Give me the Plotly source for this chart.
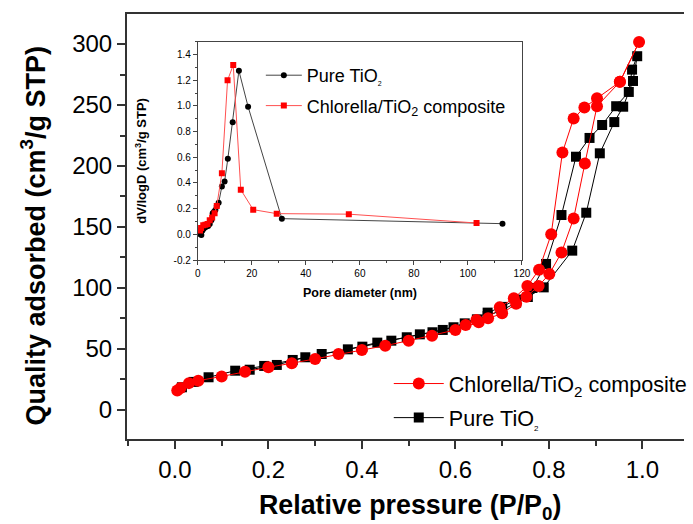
import plotly.graph_objects as go

# ---------------- Main isotherm data ----------------
chl_ads_p = [0.005, 0.012, 0.03, 0.05, 0.10, 0.15, 0.20, 0.25, 0.30, 0.35, 0.40, 0.45, 0.50, 0.55,
             0.60, 0.65, 0.70, 0.73, 0.752, 0.778, 0.801, 0.827, 0.853, 0.877, 0.903, 0.952, 0.993]
chl_ads_v = [16.0, 18.0, 22.0, 24.0, 27.5, 31.4, 35.0, 38.3, 41.8, 45.9, 49.2, 52.7, 56.8, 60.9,
             65.6, 72.0, 79.2, 87.0, 92.9, 101.6, 111.5, 129.0, 157.0, 202.0, 249.0, 269.0, 301.6]
chl_des_p = [0.993, 0.952, 0.903, 0.876, 0.853, 0.829, 0.805, 0.779, 0.754, 0.725, 0.695, 0.67, 0.645, 0.622]
chl_des_v = [301.6, 269.0, 255.5, 248.0, 239.0, 211.0, 144.0, 115.0, 101.6, 91.5, 84.2, 75.1, 73.8, 69.7]

pure_ads_p = [0.015, 0.04, 0.072, 0.129, 0.191, 0.252, 0.314, 0.37, 0.433, 0.496, 0.551, 0.596,
              0.646, 0.669, 0.70, 0.73, 0.755, 0.789, 0.85, 0.88, 0.909, 0.94, 0.959, 0.98, 0.989]
pure_ads_v = [18.6, 23.0, 26.8, 32.2, 36.1, 41.0, 45.9, 49.7, 55.2, 59.6, 63.7, 67.8,
              74.3, 77.0, 82.0, 88.0, 92.6, 100.5, 130.6, 161.7, 210.4, 236.0, 248.6, 269.7, 290.0]
pure_des_p = [0.989, 0.978, 0.971, 0.944, 0.914, 0.887, 0.858, 0.827, 0.794, 0.765, 0.73, 0.70,
              0.669, 0.62, 0.573, 0.524, 0.463, 0.401, 0.279, 0.218, 0.16]
pure_des_v = [290.0, 279.0, 260.7, 249.0, 233.6, 223.0, 207.6, 159.8, 119.7, 100.0, 90.5, 84.5,
              79.8, 71.0, 65.6, 62.0, 56.8, 51.9, 43.2, 36.9, 33.0]

# ---------------- Inset pore size distribution ----------------
pure_d = [0.5, 0.9, 1.3, 1.7, 2.2, 2.7, 3.2, 3.8, 4.4, 5.0, 5.5, 6.0, 6.5, 7.0, 7.7, 8.9, 9.9,
          11.1, 12.9, 15.2, 18.6, 31.1, 112.8]
pure_dv = [0.02, 0.0, -0.005, 0.03, 0.045, 0.055, 0.06, 0.065, 0.08, 0.11, 0.165, 0.175, 0.19,
           0.22, 0.245, 0.373, 0.412, 0.588, 0.872, 1.274, 0.994, 0.122, 0.083]
chl_d = [0.8, 1.2, 2.0, 2.8, 3.6, 4.4, 5.3, 6.2, 7.0, 8.9, 11.0, 13.1, 15.9, 20.5, 29.2, 55.9, 103.2]
chl_dv = [0.03, 0.05, 0.07, 0.075, 0.08, 0.11, 0.13, 0.165, 0.22, 0.476, 1.20, 1.318, 0.347,
          0.192, 0.161, 0.157, 0.088]

FONT = "Liberation Sans, Arial, sans-serif"
AX = "#333333"

fig = go.Figure()

# main traces (black first so red sits on top)
fig.add_trace(go.Scatter(
    x=pure_ads_p + pure_des_p[1:], y=pure_ads_v + pure_des_v[1:],
    mode="lines+markers", name="Pure TiO<sub><span style='font-size:8px'>2</span></sub>",
    line=dict(color="black", width=1), marker=dict(symbol="square", size=10, color="black"),
    legend="legend", legendrank=2, legendgroup="a"))
fig.add_trace(go.Scatter(
    x=chl_ads_p + chl_des_p[1:], y=chl_ads_v + chl_des_v[1:],
    mode="lines+markers", name="Chlorella/TiO<sub>2</sub> composite",
    line=dict(color="#ff0000", width=1), marker=dict(symbol="circle", size=12, color="#ff0000"),
    legend="legend", legendrank=1, legendgroup="b"))

# inset traces
fig.add_trace(go.Scatter(
    x=pure_d, y=pure_dv, xaxis="x2", yaxis="y2",
    mode="lines+markers", name="Pure TiO<sub><span style='font-size:7px'>2</span></sub>",
    line=dict(color="#444444", width=1), marker=dict(symbol="circle", size=6, color="black"),
    legend="legend2", legendrank=1, legendgroup="c"))
fig.add_trace(go.Scatter(
    x=chl_d, y=chl_dv, xaxis="x2", yaxis="y2",
    mode="lines+markers", name="Chlorella/TiO<sub>2</sub> composite",
    line=dict(color="#ff5050", width=1), marker=dict(symbol="square", size=6, color="#ff0000"),
    legend="legend2", legendrank=2, legendgroup="d"))

W, H = 693, 524
L, T, B = 127, 14, 85
PW, PH = W - L, H - T - B


def px_x(p):
    return (p - L) / PW


def px_y(p):
    return (H - B - p) / PH


fig.update_layout(
    width=W, height=H,
    margin=dict(l=L, r=0, t=T, b=B, pad=0),
    paper_bgcolor="white", plot_bgcolor="white",
    font=dict(family=FONT, color="black"),
    xaxis=dict(range=[-0.1025, 1.0891], tickvals=[0, 0.2, 0.4, 0.6, 0.8, 1.0],
               ticktext=["0.0", "0.2", "0.4", "0.6", "0.8", "1.0"],
               ticks="outside", ticklen=8, tickwidth=2, tickcolor=AX,
               minor=dict(dtick=0.1, tick0=0, ticks="outside", ticklen=5, tickwidth=2, tickcolor=AX),
               showline=True, linewidth=2, linecolor=AX, mirror=True,
               showgrid=False, zeroline=False, tickfont=dict(size=24, family=FONT)),
    yaxis=dict(range=[-23.8, 324.6], tickvals=[0, 50, 100, 150, 200, 250, 300],
               ticks="outside", ticklen=8, tickwidth=2, tickcolor=AX,
               minor=dict(dtick=25, tick0=0, ticks="outside", ticklen=5, tickwidth=2, tickcolor=AX),
               showline=True, linewidth=2, linecolor=AX, mirror=False,
               showgrid=False, zeroline=False, tickfont=dict(size=24, family=FONT)),
    xaxis2=dict(domain=[px_x(199), px_x(528.3)], anchor="y2", range=[0, 120],
                tickvals=[0, 20, 40, 60, 80, 100, 120],
                ticks="outside", ticklen=4, tickwidth=1, tickcolor="#444",
                minor=dict(dtick=10, tick0=0, ticks="outside", ticklen=2, tickwidth=1, tickcolor="#444"),
                showline=True, linewidth=1, linecolor="#444", mirror=True,
                showgrid=False, zeroline=False, tickfont=dict(size=10, family=FONT)),
    yaxis2=dict(domain=[px_y(260), px_y(41.7)], anchor="x2", range=[-0.2, 1.5],
                tickvals=[-0.2, 0, 0.2, 0.4, 0.6, 0.8, 1.0, 1.2, 1.4],
                ticktext=["-0.2", "0.0", "0.2", "0.4", "0.6", "0.8", "1.0", "1.2", "1.4"],
                ticks="outside", ticklen=4, tickwidth=1, tickcolor="#444",
                minor=dict(dtick=0.1, tick0=0, ticks="outside", ticklen=2, tickwidth=1, tickcolor="#444"),
                showline=True, linewidth=1, linecolor="#444", mirror=True,
                showgrid=False, zeroline=False, tickfont=dict(size=10, family=FONT)),
    legend=dict(x=px_x(393), y=px_y(363), xanchor="left", yanchor="top",
                bgcolor="rgba(0,0,0,0)", borderwidth=0, font=dict(size=21.6, family=FONT),
                itemwidth=50, tracegroupgap=3, traceorder="grouped"),
    legend2=dict(x=px_x(263), y=px_y(57), xanchor="left", yanchor="top",
                 bgcolor="rgba(0,0,0,0)", borderwidth=0, font=dict(size=18, family=FONT),
                 itemwidth=36, tracegroupgap=4, traceorder="grouped"),
    showlegend=True,
)

annotations = [
    dict(text="Quality adsorbed (cm<sup>3</sup>/g STP)", x=px_x(32), y=px_y(236), xref="paper", yref="paper",
         textangle=-90, showarrow=False, xanchor="center", yanchor="middle",
         font=dict(size=27, family=FONT, weight="bold")),
    dict(text="Relative pressure (P/P<sub>0</sub>)", x=0.503, y=px_y(507), xref="x", yref="paper",
         showarrow=False, xanchor="center", yanchor="middle",
         font=dict(size=26.8, family=FONT, weight="bold")),
    dict(text="dV/logD (cm<sup>3</sup>/g STP)", x=px_x(141), y=px_y(161), xref="paper", yref="paper",
         textangle=-90, showarrow=False, xanchor="center", yanchor="middle",
         font=dict(size=13, family=FONT, weight="bold")),
    dict(text="Pore diameter (nm)", x=60, y=px_y(293), xref="x2", yref="paper",
         showarrow=False, xanchor="center", yanchor="middle",
         font=dict(size=12.5, family=FONT, weight="bold")),
]
fig.update_layout(annotations=annotations)

fig.write_html("out.html")
